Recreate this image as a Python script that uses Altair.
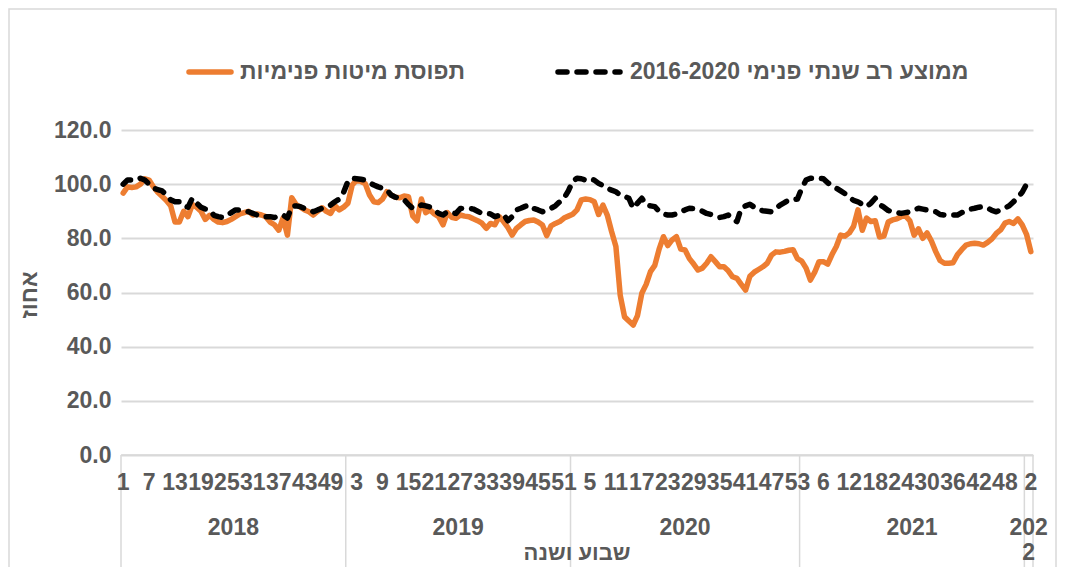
import altair as alt
import pandas as pd

# ---------------- data ----------------
years = [2018, 2019, 2020, 2021, 2022]
weeks_in_year = [52, 52, 53, 52, 2]

occ_2018 = [96.7, 99, 98.8, 99, 100, 102, 101.5, 99, 97, 95.5,
            94, 92, 86, 86, 90, 88, 92.5, 91.5, 90, 87,
            88.5, 87, 86, 85.8, 86.2, 87, 88, 89, 89.5, 90,
            88.6, 89, 88.6, 88, 86, 85, 83, 87.5, 81.2, 95,
            92.5, 91.5, 90.5, 89.8, 88.6, 90, 91.3, 90, 89.2, 92,
            90.5, 91.5]
occ_2019 = [93, 99.7, 101.5, 101, 100.2, 96, 93.5, 93.2, 94.5, 97.2,
            96, 95.2, 95, 95.6, 95.4, 88.3, 86.5, 94.5, 89.5, 90.5,
            89, 88, 85, 89.5, 87.8, 87.4, 88.6, 88.2, 88, 87.2,
            86.5, 85.6, 83.7, 85.5, 85, 88, 86.2, 84, 81.2, 83.7,
            85, 86.2, 86.6, 86.8, 86, 84.9, 81, 84.6, 85.5, 86.2,
            87.5, 88.2]
occ_2020 = [88.9, 90.5, 94.2, 94.5, 94.3, 93.5, 88.8, 92.3, 88.6, 82.5,
            77, 59, 51, 49.5, 48, 51.5, 59.7, 63, 67.7, 70,
            76, 80.6, 77.3, 79.4, 80.6, 76, 75.7, 72.5, 70.5, 68.3,
            69, 70.8, 73.2, 71.4, 69.5, 69.5, 68, 65.8, 65.2, 63,
            60.9, 66, 67.5, 68.5, 69.5, 70.8, 73.8, 75, 74.9, 75.2,
            75.6, 75.8, 72.5]
occ_2021 = [71.6, 69, 64.6, 67.5, 71.4, 71.4, 70.5, 74, 77, 81.2,
            80.8, 82, 84.5, 90.5, 83, 87.5, 86.2, 86.5, 80.5, 80.8,
            86, 86.8, 87.2, 88, 88.3, 86.5, 81.2, 83.5, 80, 82,
            79, 75.1, 71.8, 70.8, 70.8, 71, 73.9, 75.8, 77.5, 78,
            78.2, 78, 77.5, 78.5, 79.8, 81.8, 83.1, 85.6, 86.2, 85.5,
            87.2, 85]
occ_2022 = [81.5, 75.1]

avg_2018 = [100, 101.5, 101.5, 101.5, 102.2, 101.5, 100, 98.5, 98, 97.5,
            96, 94.2, 93.5, 93.5, 92, 91.5, 94.8, 93, 91.5, 90.8,
            90.5, 88.5, 88, 87.7, 88.5, 89.5, 90.5, 90.5, 90.2, 89.8,
            89.2, 88.6, 88, 88, 88, 87.7, 88.3, 88.6, 87.5, 91.7,
            92, 91.7, 91, 90.5, 89.8, 90.5, 91.1, 91.7, 92.3, 93.5,
            94.5, 97]
avg_2019 = [101, 102.2, 102, 101.8, 101.5, 100.5, 99.7, 99, 98.5, 97.9,
            96, 95.2, 94.8, 94.3, 92.5, 91.1, 91.5, 92.3, 92, 91.5,
            90.5, 89.2, 88.6, 89.8, 89.5, 89.2, 91, 91.1, 91.1, 90.8,
            90, 89.2, 89.2, 89, 88, 88.5, 88.9, 86.5, 88, 90.5,
            91.1, 91.8, 92.3, 91, 90.5, 89.8, 90.5, 91.1, 92, 93.5,
            94.8, 97.5]
avg_2020 = [101, 102.2, 102, 101.5, 102, 101.5, 100.3, 99.5, 98.5, 97.8,
            97.2, 96, 95.5, 94.8, 91.1, 93, 94.8, 92.3, 92, 91.7,
            90, 89, 88.6, 88.6, 89, 89.8, 90.5, 91.1, 91, 90.5,
            90, 89.2, 88.8, 88.2, 87.7, 88, 88.6, 87, 86.2, 91.1,
            92, 92.6, 91.5, 90.5, 90.2, 90, 89.8, 91, 92.3, 93.2,
            94.2, 94.2, 94.5]
avg_2021 = [98.5, 101.5, 102.2, 102.2, 102.2, 102, 100.5, 99.5, 98.5, 97.5,
            96.5, 95.2, 94, 93.5, 92.5, 91.7, 93, 94.8, 92.5, 91.5,
            90.3, 89.8, 89.5, 89.2, 89.5, 89.8, 90.5, 91.1, 90.8, 90.5,
            90, 89.8, 88.8, 88.6, 88.6, 88.6, 88.6, 89.5, 90, 90.8,
            91.1, 91.5, 91.7, 91.2, 90.3, 89.8, 90.5, 91.2, 92, 93.5,
            95.2, 97]
avg_2022 = [100, 101]

occ_by_year = [occ_2018, occ_2019, occ_2020, occ_2021, occ_2022]
avg_by_year = [avg_2018, avg_2019, avg_2020, avg_2021, avg_2022]
year_labels = ["2018", "2019", "2020", "2021", "202\n2"]
y_ticks = [0, 20, 40, 60, 80, 100, 120]

series_occ = "תפוסת מיטות פנימיות"
series_avg = "ממוצע רב שנתי פנימי 2016-2020"
x_title = "שבוע ושנה"
y_title = "אחוז"

# ---------------- tables ----------------
rows = []
year_rows = []
idx = 0
for yr, n, occ, avg, ylab in zip(years, weeks_in_year, occ_by_year, avg_by_year, year_labels):
    start = idx
    for w in range(n):
        rows.append({"i": idx, "x": idx + 0.5, "year": yr, "week": w + 1,
                     "occ": occ[w], "avg": avg[w]})
        idx += 1
    year_rows.append({"year": yr, "start": start, "end": idx,
                      "mid": (start + idx) / 2, "label": ylab})
N = idx
df = pd.DataFrame(rows)
df_weeks = df[df["i"] % 6 == 0].copy()
df_years = pd.DataFrame(year_rows)
df_bounds = pd.DataFrame({"b": [0] + list(df_years["end"])})

# ---------------- style ----------------
W, H = 912, 325
FONT = "Liberation Sans"
GREY = "#595959"
GRID = "#D9D9D9"
ORANGE = "#ED7D31"
FS = 23
LW = 5.5
DASH = [9, 10]

xs = alt.Scale(domain=[0, N], nice=False, zero=False)
ys = alt.Scale(domain=[0, 120], nice=False, zero=True)
y_axis = alt.Axis(values=y_ticks, format=".1f", title=None,
                  labelFont=FONT, labelFontSize=FS, labelFontWeight="bold",
                  labelColor=GREY, ticks=False, domain=False,
                  gridColor=GRID, gridWidth=2, labelPadding=10)

base = alt.Chart(df)

occ_line = base.mark_line(color=ORANGE, strokeWidth=LW, strokeJoin="round",
                          strokeCap="round").encode(
    x=alt.X("x:Q", scale=xs, axis=None),
    y=alt.Y("occ:Q", scale=ys, axis=y_axis),
)

avg_line = base.mark_line(color="black", strokeWidth=LW, strokeDash=DASH,
                          strokeCap="round", strokeJoin="round").encode(
    x=alt.X("x:Q", scale=xs, axis=None),
    y=alt.Y("avg:Q", scale=ys, axis=y_axis),
)

week_text = alt.Chart(df_weeks).mark_text(
    font=FONT, fontSize=FS, fontWeight="bold", color=GREY, baseline="middle"
).encode(x=alt.X("x:Q", scale=xs, axis=None), y=alt.value(H + 28), text="week:N")

year_text = alt.Chart(df_years).mark_text(
    font=FONT, fontSize=FS, fontWeight="bold", color=GREY, baseline="top",
    lineBreak="\n", lineHeight=25
).encode(x=alt.X("mid:Q", scale=xs, axis=None), y=alt.value(H + 62), text="label:N")

bounds = alt.Chart(df_bounds).mark_rule(color=GRID, strokeWidth=1.5).encode(
    x=alt.X("b:Q", scale=xs, axis=None), y=alt.value(H), y2=alt.value(H + 112))

one = pd.DataFrame({"a": [0]})
baseline_rule = alt.Chart(one).mark_rule(color=GRID, strokeWidth=1.5).encode(
    x=alt.value(0), x2=alt.value(W), y=alt.value(H))

x_title_text = alt.Chart(one).mark_text(
    font=FONT, fontSize=22, fontWeight="bold", color=GREY, baseline="top"
).encode(x=alt.value(W / 2), y=alt.value(H + 88), text=alt.value(x_title))

y_title_text = alt.Chart(one).mark_text(
    font=FONT, fontSize=FS, fontWeight="bold", color=GREY, angle=270, baseline="middle"
).encode(x=alt.value(-91), y=alt.value(165), text=alt.value(y_title))

leg_occ_sym = alt.Chart(one).mark_rule(color=ORANGE, strokeWidth=LW, strokeCap="round").encode(
    x=alt.value(68), x2=alt.value(110), y=alt.value(-58))
leg_occ_txt = alt.Chart(one).mark_text(
    font=FONT, fontSize=FS, fontWeight="bold", color=GREY, align="left", baseline="middle"
).encode(x=alt.value(119), y=alt.value(-58), text=alt.value(series_occ))
leg_avg_sym = alt.Chart(one).mark_rule(color="black", strokeWidth=LW, strokeCap="round",
                                       strokeDash=DASH).encode(
    x=alt.value(437), x2=alt.value(499), y=alt.value(-58))
leg_avg_txt = alt.Chart(one).mark_text(
    font=FONT, fontSize=FS, fontWeight="bold", color=GREY, align="left", baseline="middle"
).encode(x=alt.value(509), y=alt.value(-58), text=alt.value(series_avg))

border = alt.Chart(one).mark_rect(fillOpacity=0, stroke=GRID, strokeWidth=1.5).encode(
    x=alt.value(-112), x2=alt.value(W + 23), y=alt.value(-121), y2=alt.value(H + 120))

chart = alt.layer(
    border, occ_line, avg_line, bounds, baseline_rule, week_text, year_text,
    x_title_text, y_title_text, leg_occ_sym, leg_occ_txt, leg_avg_sym, leg_avg_txt
).properties(
    width=W, height=H,
    padding={"left": 113, "top": 122, "right": 24, "bottom": 112},
    autosize=alt.AutoSizeParams(type="none"),
    background="white",
).configure_view(stroke=None)

chart.save("out.html", embed_options={"renderer": "svg", "actions": False})
